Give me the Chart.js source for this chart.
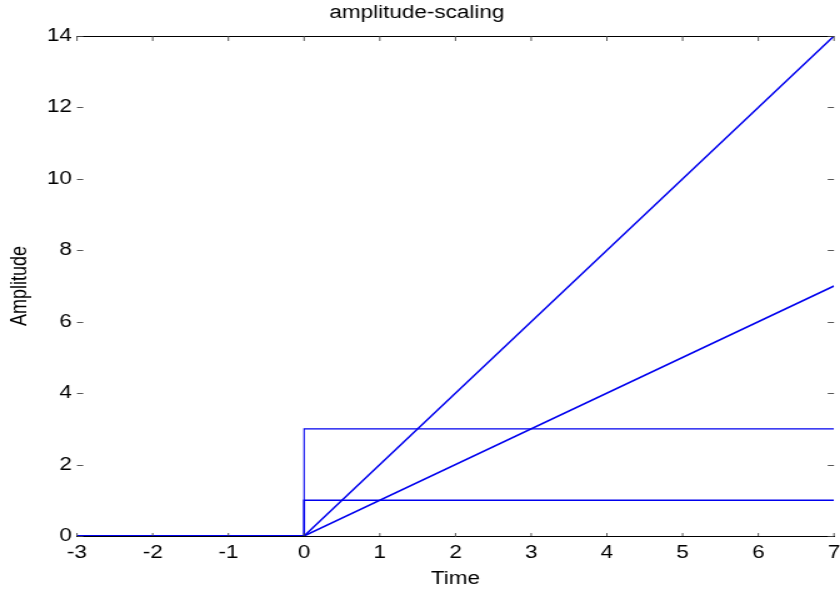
<!DOCTYPE html>
<html>
<head>
<meta charset="utf-8">
<script src="https://cdn.jsdelivr.net/npm/chart.js@4"></script>
<style>
  html, body { margin: 0; padding: 0; background: #fff; overflow: hidden; }
  /* the reference is a horizontally stretched figure: draw at 672 wide, stretch to 840 */
  #wrap { width: 672px; height: 590px; transform: scaleX(1.25); transform-origin: 0 0; }
</style>
</head>
<body>
<div id="wrap"><canvas id="chart" width="672" height="590"></canvas></div>
<script>
// time points and the four signals
var timePoints = [-3, 0, 0, 7];
var step1 = [0, 0, 1, 1];
var step3 = [0, 0, 3, 3];
var ramp1 = [0, 0, 0, 7];
var ramp2 = [0, 0, 0, 14];
var xTicks = [-3, -2, -1, 0, 1, 2, 3, 4, 5, 6, 7];
var yTicks = [0, 2, 4, 6, 8, 10, 12, 14];

function toPoints(ys) {
    var pts = [];
    for (var i = 0; i < timePoints.length; i++) {
        pts.push({ x: timePoints[i], y: ys[i] });
    }
    return pts;
}

var FONT = "'Liberation Sans', Arial, sans-serif";

// inward tick marks and the top frame line, MATLAB style
var frameTicks = {
    id: 'frameTicks',
    afterDatasetsDraw: function (chart) {
        var ctx = chart.ctx;
        var a = chart.chartArea;
        var xs = chart.scales.x, ys = chart.scales.y;
        ctx.save();
        ctx.strokeStyle = '#000';
        ctx.lineWidth = 1;
        ctx.beginPath();
        ctx.moveTo(a.left, a.top + 0.5);
        ctx.lineTo(a.right, a.top + 0.5);
        ctx.stroke();
        ctx.strokeStyle = '#444';
        ctx.lineWidth = 0.9;
        ctx.beginPath();
        xTicks.forEach(function (v) {
            var px = xs.getPixelForValue(v);
            ctx.moveTo(px, a.top);
            ctx.lineTo(px, a.top + 5);
            ctx.moveTo(px, a.bottom);
            ctx.lineTo(px, a.bottom - 3);
        });
        yTicks.forEach(function (v) {
            var py = Math.round(ys.getPixelForValue(v)) + 0.5;
            ctx.moveTo(a.left, py);
            ctx.lineTo(a.left + 5, py);
            ctx.moveTo(a.right, py);
            ctx.lineTo(a.right - 5, py);
        });
        ctx.stroke();
        ctx.restore();
    }
};

function series(data, width) {
    return {
        data: toPoints(data),
        borderColor: '#0000ee',
        borderWidth: width,
        pointRadius: 0,
        fill: false,
        tension: 0
    };
}

new Chart('chart', {
    type: 'line',
    data: {
        datasets: [
            series(step3, 1.1),
            series(step1, 1.6),
            series(ramp2, 1.5),
            series(ramp1, 1.5)
        ]
    },
    plugins: [frameTicks],
    options: {
        responsive: false,
        animation: false,
        layout: { padding: { left: 0, right: 4.8, top: 0, bottom: 0 } },
        plugins: {
            legend: { display: false },
            tooltip: { enabled: false },
            title: {
                display: true,
                text: 'amplitude-scaling',
                color: '#000',
                font: { family: FONT, size: 18, weight: 'normal' },
                padding: { top: 2, bottom: 12.4 }
            }
        },
        scales: {
            x: {
                type: 'linear',
                min: -3,
                max: 7,
                afterBuildTicks: function (s) {
                    s.ticks = xTicks.map(function (v) { return { value: v }; });
                },
                afterFit: function (s) {
                    s.height = 54;
                    // let the last label run off the edge like the original
                    s.paddingLeft = 0;
                    s.paddingRight = 0;
                },
                grid: { drawOnChartArea: false, drawTicks: false },
                border: { display: true, color: '#000', width: 1 },
                ticks: {
                    color: '#000',
                    padding: 6,
                    maxRotation: 0,
                    font: { family: FONT, size: 18 }
                },
                title: {
                    display: true,
                    text: 'Time',
                    color: '#000',
                    font: { family: FONT, size: 18 },
                    padding: { top: 1, bottom: 0 }
                }
            },
            y: {
                type: 'linear',
                min: 0,
                max: 14,
                afterBuildTicks: function (s) {
                    s.ticks = yTicks.map(function (v) { return { value: v }; });
                },
                afterFit: function (s) {
                    s.width = 61.6;
                    s.paddingTop = 0;
                    s.paddingBottom = 0;
                },
                grid: { drawOnChartArea: false, drawTicks: false },
                border: { display: false },
                ticks: {
                    color: '#000',
                    padding: 4,
                    font: { family: FONT, size: 18 }
                },
                title: {
                    display: true,
                    text: 'Amplitude',
                    color: '#000',
                    font: { family: FONT, size: 18 },
                    padding: { top: 5, bottom: 0 }
                }
            }
        }
    }
});
</script>
</body>
</html>
